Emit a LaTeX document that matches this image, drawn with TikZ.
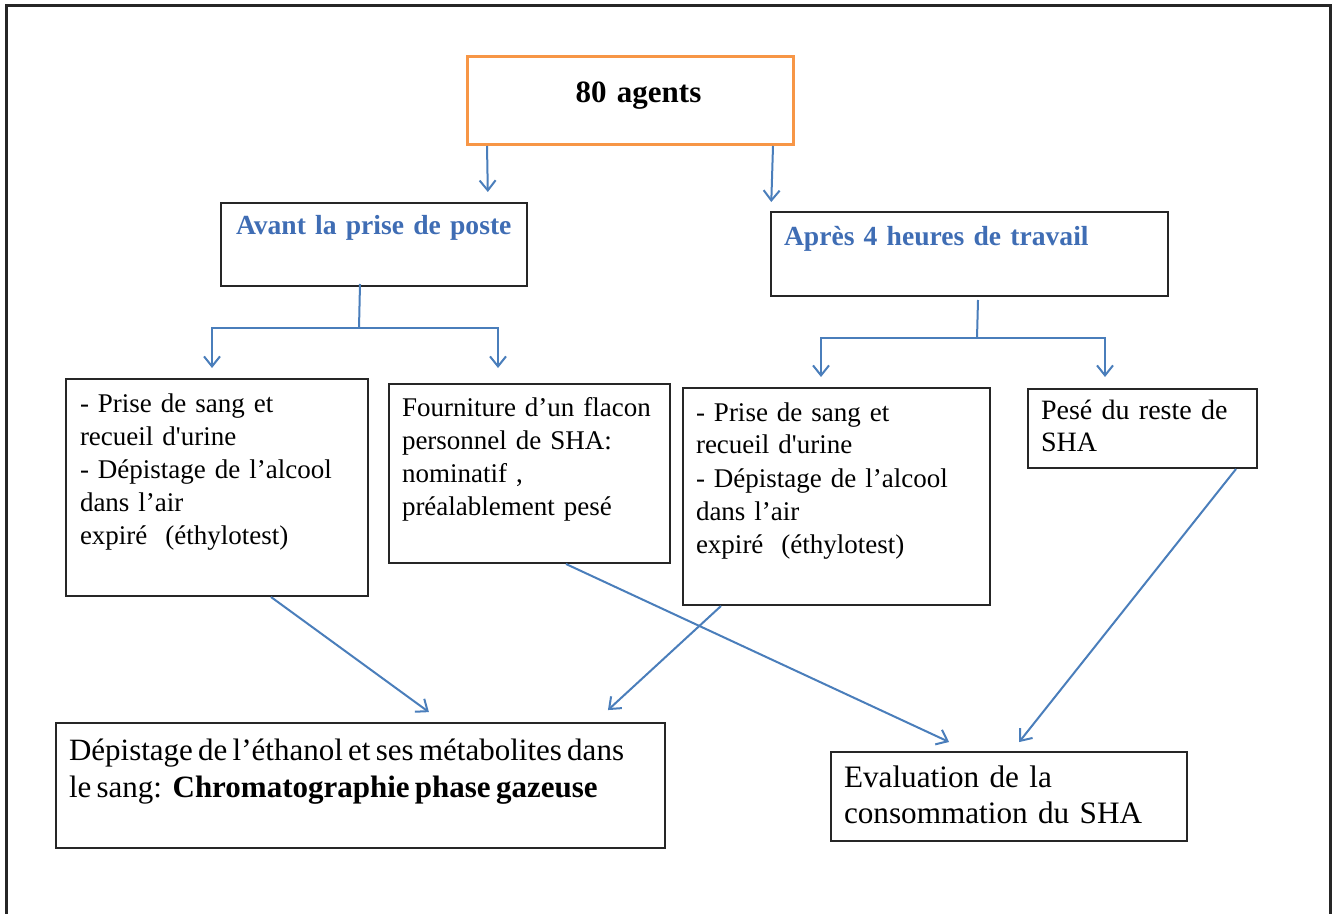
\documentclass[tikz,border=0pt]{standalone}
\usepackage{fontspec}
\setmainfont{Liberation Serif}
\usetikzlibrary{arrows.meta}
\definecolor{agentorange}{HTML}{F79646}
\definecolor{linkblue}{HTML}{4A7EBB}
\definecolor{headblue}{HTML}{3F6DB4}
\definecolor{boxgray}{HTML}{262626}

\begin{document}
\begin{tikzpicture}[x=0.5pt,y=-0.5pt,>={Straight Barb[length=5pt,width=8pt]},
                    box/.style={draw=boxgray,line width=1pt,anchor=north west,inner ysep=0pt,inner xsep=6.5pt,align=left},
                    head/.style={box,font=\fontsize{13.8}{16}\selectfont\bfseries,text=headblue},
                    act/.style={box,font=\fontsize{13.5}{16.5}\selectfont},
                    link/.style={linkblue,line width=1pt}]
\useasboundingbox (0,0) rectangle (1337,914);
\draw[boxgray,line width=1.5pt] (6,914) -- (6,6) -- (1330,6) -- (1330,914);

\node[box,draw=agentorange,line width=1.5pt,align=center,text width=150pt,text height=23pt,text depth=21pt,
      font=\fontsize{15.5}{18}\selectfont\bfseries] (agents) at (466,55) {\hspace*{8pt}80 agents};
\node[head,inner xsep=7.5pt,text width=138pt,text height=16pt,text depth=25.5pt] (avant) at (220,202) {Avant la prise de poste};
\node[head,text width=185.5pt,text height=17pt,text depth=25pt] (apres) at (770,211) {Après 4 heures de travail};

\node[act,inner xsep=7pt,text width=137pt,text height=16.5pt,text depth=92pt] (prel1) at (65,378)
  {- Prise de sang et\\recueil d\textquotesingle urine\\- Dépistage de l’alcool\\dans l’air\\expiré\ \ (éthylotest)};
\node[act,text width=127.5pt,text height=16pt,text depth=73.5pt] (flacon) at (388,383)
  {Fourniture d’un flacon\\personnel de SHA:\\nominatif ,\\préalablement pesé};
\node[act,text width=140.5pt,text height=16.5pt,text depth=92pt] (prel2) at (682,387)
  {- Prise de sang et\\recueil d\textquotesingle urine\\- Dépistage de l’alcool\\dans l’air\\expiré\ \ (éthylotest)};
\node[act,font=\fontsize{14}{16}\selectfont,text width=101.5pt,text height=15pt,text depth=24.5pt] (reste) at (1027,388)
  {Pesé du reste de\\SHA};

\node[box,font=\fontsize{15.5}{18.5}\selectfont,text width=291.5pt,text height=18.5pt,text depth=44pt] (chroma) at (55,722)
  {\spaceskip=0.17em\relax\mbox{Dépistage de l’éthanol et ses métabolites dans}\\le sang:\ \ \textbf{Chromatographie phase gazeuse}};
\node[box,font=\fontsize{15.6}{18}\selectfont,text width=165pt,text height=17.5pt,text depth=27pt] (conso) at (830,751)
  {Evaluation de la\\consommation du SHA};

% first split
\draw[link,->,shorten >=5pt] ([xshift=10.5pt]agents.south west) -- ([xshift=57pt]avant.north);
\draw[link,->,shorten >=4.5pt] ([xshift=-11pt]agents.south east) -- ([xshift=-99.25pt]apres.north);

% before / after work
\coordinate (forkA) at (359,328);
\coordinate (forkB) at (977,338);
\draw[link] ([xshift=-7pt,yshift=1.5pt]avant.south) -- (forkA);
\draw[link,->,shorten >=5pt] (forkA) -| ([xshift=-2.5pt]prel1.north);
\draw[link,->,shorten >=7.5pt] (forkA) -| ([xshift=-15.75pt]flacon.north);
\draw[link] ([xshift=4.25pt,yshift=-1.5pt]apres.south) -- (forkB);
\draw[link,->,shorten >=5pt] (forkB) -| ([xshift=-7.75pt]prel2.north);
\draw[link,->,shorten >=5.5pt] (forkB) -| ([xshift=-18.75pt]reste.north);

% results
\path[link,->]
  ([xshift=27pt]prel1.south) edge[shorten >=8.4pt] ([xshift=41pt]chroma.north)
  ([xshift=18.25pt]flacon.south) edge[shorten >=10.7pt] ([xshift=-20.25pt]conso.north)
  ([xshift=-57.75pt]prel2.south) edge[shorten >=8.8pt] ([xshift=117.25pt]chroma.north)
  ([xshift=46.75pt]reste.south) edge[shorten >=5.7pt] ([xshift=1.5pt]conso.north);
\end{tikzpicture}
\end{document}
